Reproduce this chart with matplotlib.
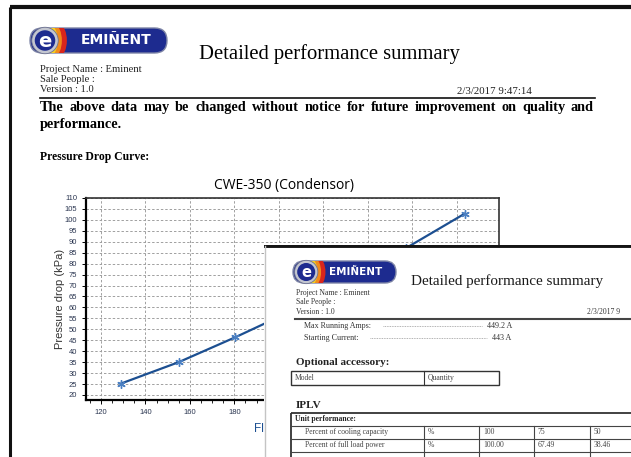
import matplotlib
matplotlib.use("Agg")
from matplotlib import pyplot as plt
from matplotlib.patches import FancyBboxPatch, Circle, Ellipse, Rectangle
from matplotlib.ticker import MultipleLocator

# pressure drop curve of the condensor (flow, kPa)
flow = [129, 155, 180.5, 206, 232, 257, 283.5]
pressure_drop = [25.2, 35.0, 46.4, 58.5, 72.0, 87.0, 102.8]

chart_title = "CWE-350 (Condensor)"
x_label = "Flux (m³/h)"
y_label = "Pressure drop (kPa)"
y_ticks = list(range(20, 111, 5))
x_ticks = list(range(120, 281, 20))

# second page (pasted on top)
iplv_rows = [
    ["Percent of cooling capacity", "%", "100", "75", "50"],
    ["Percent of full load power", "%", "100.00", "67.49", "38.46"],
]

W, H = 631, 457
SERIF = "Liberation Serif"
SANS = "Liberation Sans"

fig = plt.figure(figsize=(W / 100, H / 100), dpi=100)
fig.patch.set_facecolor("white")


def page_axes(x0, y0, x1, y1):
    # axes whose data units are the pixels of the picture
    a = fig.add_axes([x0 / W, 1 - y1 / H, (x1 - x0) / W, (y1 - y0) / H])
    a.set_xlim(x0, x1)
    a.set_ylim(y1, y0)
    a.set_axis_off()
    return a


def logo(a, x0, y0, w, h, fs, tx):
    pill = FancyBboxPatch((x0, y0), w, h, boxstyle="round,pad=0,rounding_size=%f" % (h / 2),
                          fc="#1d2b8f", ec="#7d84a6", lw=1.0, zorder=2)
    a.add_patch(pill)
    cy = y0 + h / 2
    for dx, col in [(0.95, "#d9261c"), (0.75, "#f08a1c"), (0.58, "#f7d41e")]:
        e = Ellipse((x0 + h * dx + h * 0.25, cy), h * 0.55, h * 1.2, fc=col, ec="none", zorder=3)
        a.add_patch(e)
        e.set_clip_path(pill)
    cx = x0 + h * 0.6
    a.add_patch(Circle((cx, cy), h * 0.53, fc="#c3c6d0", ec="#6d7290", lw=0.6, zorder=4))
    a.add_patch(Circle((cx, cy), h * 0.41, fc="#1d2b8f", ec="none", zorder=5))
    a.text(cx, cy + h * 0.03, "e", color="white", fontsize=fs * 1.4, fontweight="bold",
           family="DejaVu Sans", ha="center", va="center", zorder=6)
    a.text(x0 + h * tx, cy, "EMIÑENT", color="white", fontsize=fs, fontweight="bold",
           family="DejaVu Sans", ha="left", va="center", zorder=6)


def justified(a, text, x0, x1, y, **kw):
    words = text.split()
    r = fig.canvas.get_renderer()
    objs = [a.text(0, y, w, ha="left", va="center", **kw) for w in words]
    widths = [o.get_window_extent(r).width for o in objs]
    gap = (x1 - x0 - sum(widths)) / (len(words) - 1)
    x = x0
    for o, wd in zip(objs, widths):
        o.set_x(x)
        x += wd + gap


# ---------- first page ----------
bg = page_axes(0, 0, W, H)
bg.plot([10, W], [7, 7], color="#111", lw=3, solid_capstyle="butt")
bg.plot([10, 10], [7, H], color="#111", lw=2.2, solid_capstyle="butt")
logo(bg, 30, 28, 137, 25, 10, 2.05)
bg.text(199, 54, "Detailed performance summary", family=SERIF, fontsize=14.9, va="center")
bg.text(40, 69, "Project Name : Eminent", family=SERIF, fontsize=7.6, va="center", color="#222")
bg.text(40, 79, "Sale People :", family=SERIF, fontsize=7.6, va="center", color="#222")
bg.text(40, 90, "Version : 1.0", family=SERIF, fontsize=7.6, va="center", color="#222")
bg.text(532, 91, "2/3/2017 9:47:14", family=SERIF, fontsize=7.8, va="center", ha="right", color="#222")
bg.plot([40, 595], [98, 98], color="#111", lw=1.2)
justified(bg, "The above data may be changed without notice for future improvement on quality and",
          40, 594, 107.5, family=SERIF, fontsize=10.3, fontweight="bold")
bg.text(40, 124.5, "performance.", family=SERIF, fontsize=10.3, fontweight="bold", va="center")
bg.text(40, 157, "Pressure Drop Curve:", family=SERIF, fontsize=8.4, fontweight="bold", va="center")
bg.text(284, 186, chart_title, family="Open Sans", fontsize=10, ha="center", va="center")

# ---------- chart ----------
ax = fig.add_axes([86 / W, 1 - 400 / H, (499 - 86) / W, (400 - 198) / H])
ax.plot(flow, pressure_drop, color="#1c4f91", lw=1.6, marker=(6, 2, 0), ms=6,
        mec="#4a7fc2", mew=1.0)
ax.set_xlim(113.3, 299)
ax.set_ylim(17.7, 110)
ax.set_yticks(y_ticks)
ax.set_xticks(x_ticks)
ax.xaxis.set_minor_locator(MultipleLocator(5))
ax.grid(True, which="major", color="#a0a0a0", lw=0.7, linestyle=(0, (2.5, 2)))
ax.tick_params(axis="both", which="major", labelsize=5.5, labelcolor="#2a3550", length=3, width=0.7)
ax.tick_params(axis="x", which="minor", length=1.8, width=0.6)
for s in ["left", "bottom"]:
    ax.spines[s].set_linewidth(1.6)
for s in ["top", "right"]:
    ax.spines[s].set_linewidth(1.2)
    ax.spines[s].set_color("#333")
for lab in ax.get_xticklabels() + ax.get_yticklabels():
    lab.set_family(SANS)
ax.set_ylabel(y_label, family=SANS, fontsize=8, color="#333")
ax.yaxis.set_label_coords(-0.05, 0.5)
ax.set_xlabel(x_label, family=SANS, fontsize=8.5, color="#1c4f91")
ax.xaxis.set_label_coords(0.475, -0.11)

# ---------- second page on top ----------
ov = page_axes(264, 245, W, H)
ov.add_patch(Rectangle((264, 245), W - 264, H - 245, fc="white", ec="none", zorder=0))
ov.plot([264, W], [245.5, 245.5], color="#151515", lw=2.8, solid_capstyle="butt")
ov.plot([264.5, 264.5], [246, H], color="#c4c4c4", lw=1.0)
logo(ov, 293, 261, 103, 22, 7.5, 1.65)
ov.text(411, 281, "Detailed performance summary", family=SERIF, fontsize=10.9, va="center", color="#1a1a1a")
ov.text(296, 293, "Project Name : Eminent", family=SERIF, fontsize=5.5, va="center", color="#333")
ov.text(296, 302, "Sale People :", family=SERIF, fontsize=5.5, va="center", color="#333")
ov.text(296, 312, "Version : 1.0", family=SERIF, fontsize=5.5, va="center", color="#333")
ov.text(587, 312, "2/3/2017 9", family=SERIF, fontsize=5.5, va="center", color="#333")
ov.plot([295, W], [318.5, 318.5], color="#444", lw=1.5)
ov.text(304, 326, "Max Running Amps:", family=SERIF, fontsize=5.8, va="center", color="#333")
ov.plot([383, 482], [326, 326], color="#999", lw=0.6, linestyle=(0, (1, 1)))
ov.text(487, 326, "449.2 A", family=SERIF, fontsize=5.8, va="center", color="#333")
ov.text(304, 338, "Starting Current:", family=SERIF, fontsize=5.8, va="center", color="#333")
ov.plot([370, 487], [338, 338], color="#999", lw=0.6, linestyle=(0, (1, 1)))
ov.text(492, 338, "443 A", family=SERIF, fontsize=5.8, va="center", color="#333")
ov.text(296, 362, "Optional accessory:", family=SERIF, fontsize=8, fontweight="bold", va="center", color="#222")
ov.add_patch(Rectangle((291, 371), 208, 14, fc="none", ec="#333", lw=1.0))
ov.plot([424, 424], [371, 385], color="#333", lw=0.8)
ov.text(295, 378, "Model", family=SERIF, fontsize=5.5, va="center", color="#444")
ov.text(428, 378, "Quantity", family=SERIF, fontsize=5.5, va="center", color="#444")
ov.text(296, 405, "IPLV", family=SERIF, fontsize=8, fontweight="bold", va="center", color="#222")

row_top = [413, 425.5, 438.5, 451.5]
col_x = [424, 479, 534, 590]
ov.add_patch(Rectangle((291, 413), 360, 60, fc="none", ec="#333", lw=1.3))
ov.text(295, 419, "Unit performance:", family=SERIF, fontsize=5.5, fontweight="bold", va="center", color="#222")
for yy in row_top[1:]:
    ov.plot([291, W], [yy, yy], color="#444", lw=0.8)
for cx in col_x:
    ov.plot([cx, cx], [row_top[1], H], color="#444", lw=0.8)
for i, row in enumerate(iplv_rows):
    yc = (row_top[i + 1] + row_top[i + 2]) / 2
    ov.text(305, yc, row[0], family=SERIF, fontsize=5.5, va="center", color="#444")
    for cx, val in zip(col_x, row[1:]):
        ov.text(cx + 4, yc, val, family=SERIF, fontsize=5.5, va="center", color="#444")

fig.savefig("out.png", dpi=100)
